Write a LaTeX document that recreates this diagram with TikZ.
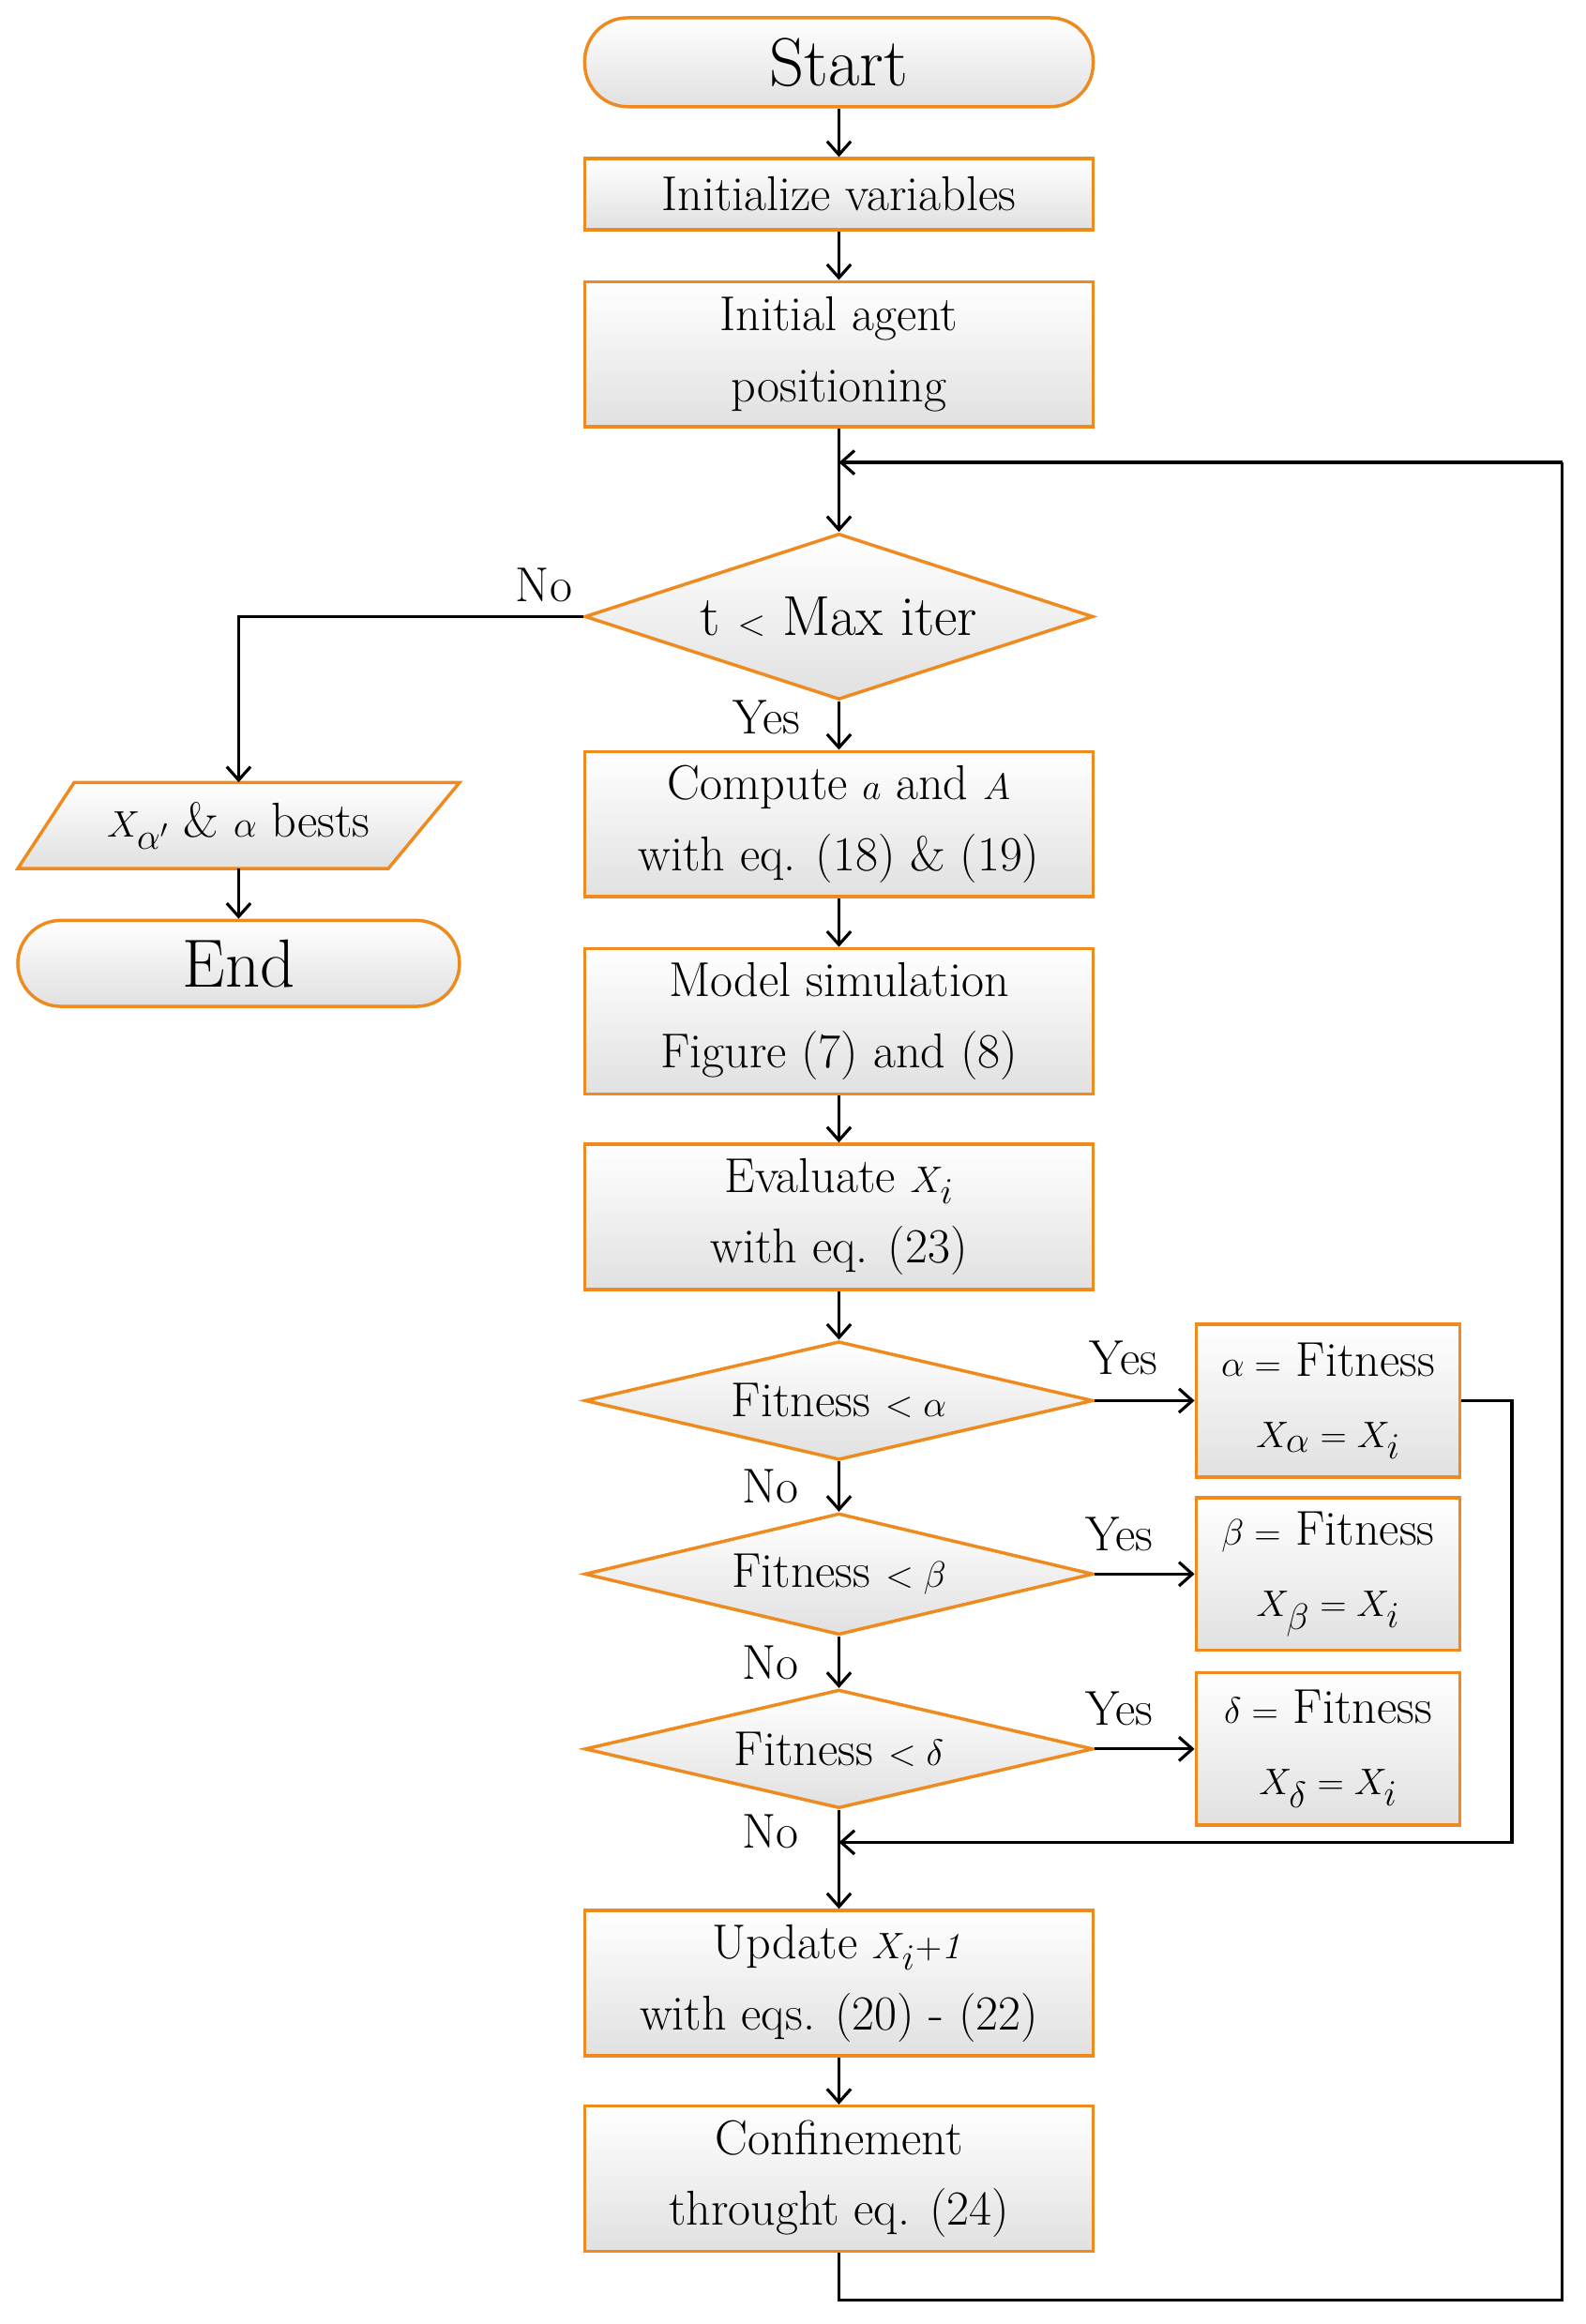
\documentclass[tikz,border=0pt]{standalone}
\usetikzlibrary{shapes.geometric,arrows.meta}
\definecolor{org}{HTML}{EE8A1E}
\begin{document}
\begin{tikzpicture}[x=1pt,y=-1pt,
  base/.style={draw=org,line width=2.2pt,top color=white,bottom color=black!12,inner sep=0pt,align=center,font=\fontsize{33}{48}\selectfont},
  box/.style={base,rectangle,minimum width=343,minimum height=98},
  sbox/.style={box,minimum height=48},
  rbox/.style={base,rectangle,minimum width=178,minimum height=103},
  term/.style={base,rounded corners=29pt,minimum width=343,minimum height=60,font=\fontsize{46}{50}\selectfont},
  dia/.style={base,diamond,aspect=4.3,minimum width=343,minimum height=80},
  ar/.style={line width=2pt,-{Straight Barb[length=9pt,width=16pt,line width=2pt]}},
  ln/.style={line width=2pt},
  lab/.style={font=\fontsize{33}{36}\selectfont}]
\useasboundingbox (0,0) rectangle (1070,1568);
\node[term] (start) at (566,42) {Start};
\node[sbox] (init) at (566,131) {Initialize variables};
\node[box] (agent) at (566,239) {Initial agent\\positioning};
\node[base,diamond,minimum width=343,minimum height=112,aspect=3.1] (tmax) at (566,416) {};
\node[lab,font=\fontsize{38}{40}\selectfont] at (566,416) {t $<$ Max iter};
\node[box] (comp) at (566,556) {Compute $a$ and $A$\\with eq. (18) \& (19)};
\node[box] (model) at (566,689) {Model simulation\\Figure (7) and (8)};
\node[box] (eval) at (566,821) {Evaluate $X_i$\\with eq. (23)};
\node[base,diamond,minimum width=343,minimum height=80,aspect=4.3] (fa) at (566,945) {};
\node[lab] at (566,945) {Fitness $<\alpha$};
\node[base,diamond,minimum width=343,minimum height=82,aspect=4.2] (fb) at (566,1062) {};
\node[lab] at (566,1062) {Fitness $<\beta$};
\node[base,diamond,minimum width=343,minimum height=80,aspect=4.3] (fd) at (566,1180) {};
\node[lab] at (566,1180) {Fitness $<\delta$};
\node[rbox] (ra) at (896,945) {$\alpha=$ Fitness\\$X_\alpha=X_i$};
\node[rbox] (rb) at (896,1062) {$\beta=$ Fitness\\$X_\beta=X_i$};
\node[rbox] (rd) at (896,1180) {$\delta=$ Fitness\\$X_\delta=X_i$};
\node[box] (upd) at (566,1338) {Update $X_{i}{+}\mathit{1}$\\with eqs. (20) - (22)};
\node[box] (conf) at (566,1470) {Confinement\\throught eq. (24)};
\draw[base] (50,528) -- (310,528) -- (262,586) -- (12,586) -- cycle;
\node[lab,inner sep=0pt,minimum width=200,minimum height=58] (best) at (161,557) {$X_{\alpha'}$ \& $\alpha$ bests};
\node[term,minimum width=298,minimum height=58] (end) at (161,650) {End};
\coordinate (j1) at (566,312);
\coordinate (j2) at (566,1243);
\coordinate (bl) at (566,1552);
\coordinate (br) at (1054,1552);
\coordinate (tr) at (1054,312);
\coordinate (nl) at (161,416);
\coordinate (ar1) at (1020,945);
\coordinate (ar2) at (1020,1243);
\draw[ar] (start) -- (init);
\draw[ar] (init) -- (agent);
\draw[ar] (agent) -- (tmax);
\draw[ar] (tmax) -- (comp);
\draw[ar] (comp) -- (model);
\draw[ar] (model) -- (eval);
\draw[ar] (eval) -- (fa);
\draw[ar] (fa) -- (fb);
\draw[ar] (fb) -- (fd);
\draw[ar] (fa) -- (ra);
\draw[ar] (fb) -- (rb);
\draw[ar] (fd) -- (rd);
\draw[ar] (fd) -- (upd);
\draw[ar] (upd) -- (conf);
\draw[ln] (conf) -- (bl) -- (br) -- (tr);
\draw[ar] (tr) -- (j1);
\draw[ar] (ra.east) -- (ar1) -- (ar2) -- (j2);
\draw[ar] (tmax.west) -- (nl) -- (best);
\draw[ar] (best) -- (end);
\node[lab] at (367,395) {No};
\node[lab] at (517,484) {Yes};
\node[lab] at (758,916) {Yes};
\node[lab] at (755,1035) {Yes};
\node[lab] at (755,1153) {Yes};
\node[lab] at (520,1003) {No};
\node[lab] at (520,1122) {No};
\node[lab] at (520,1236) {No};
\end{tikzpicture}
\end{document}
